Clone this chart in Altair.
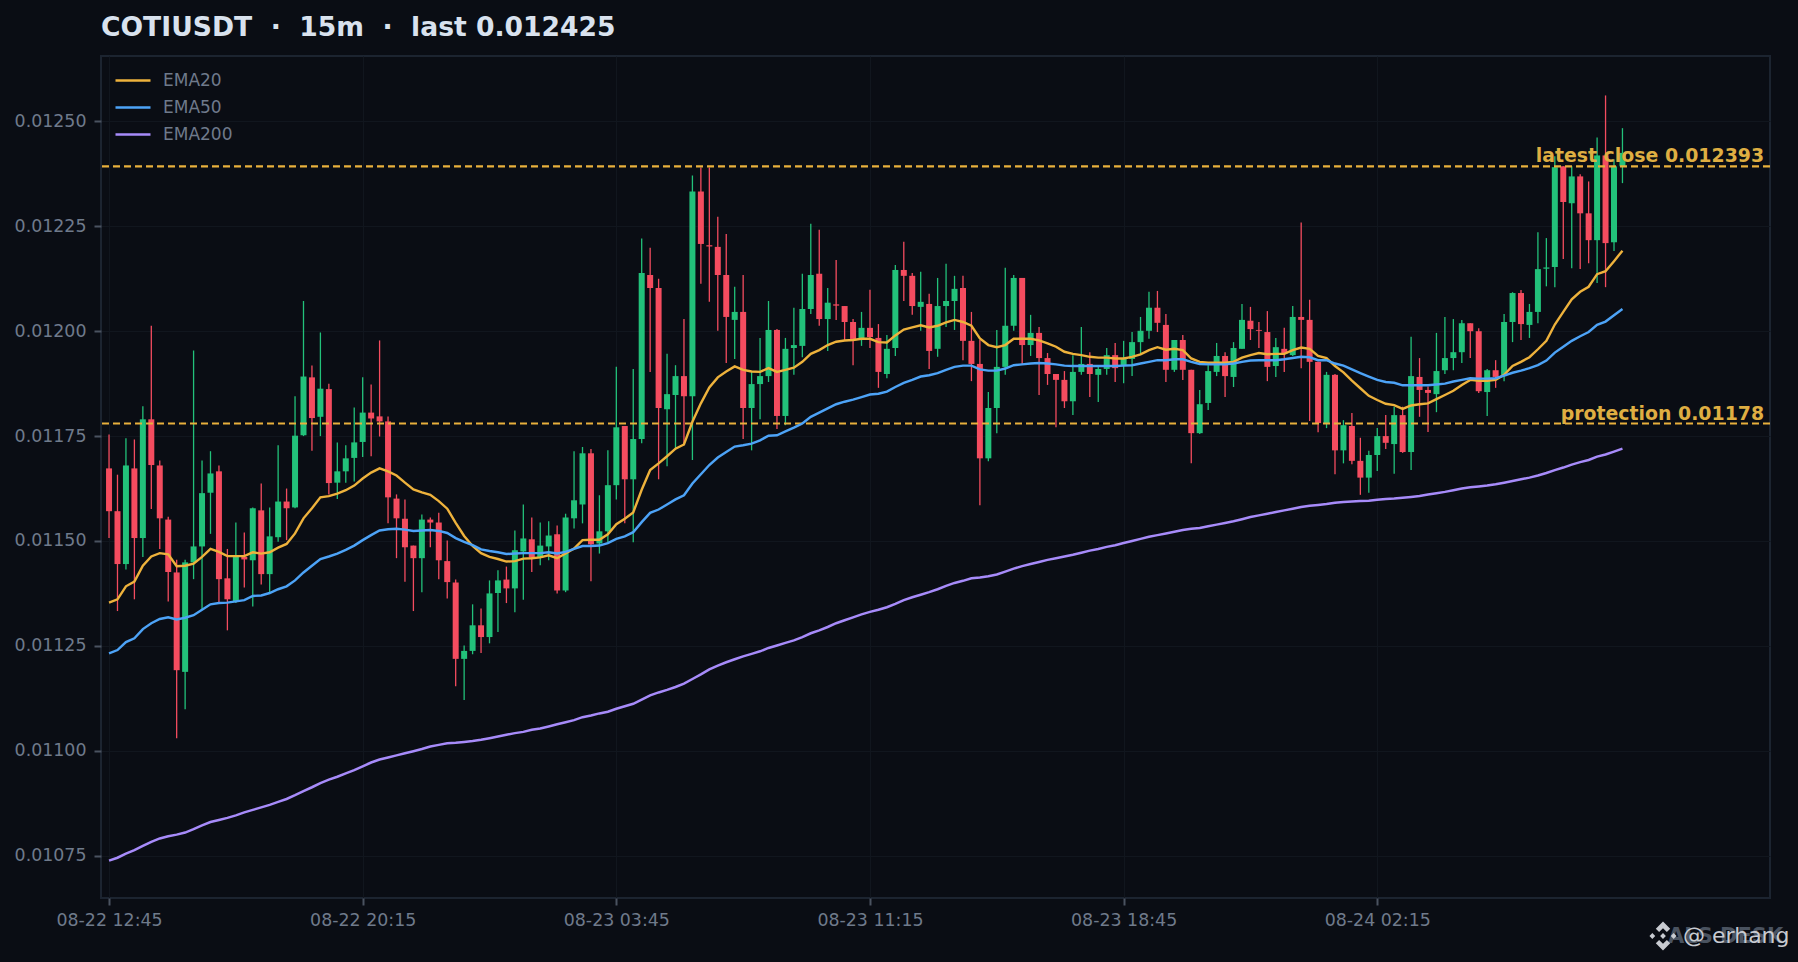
import altair as alt
import pandas as pd

# prices in units of 1e-6
opens = [11673,11571,11445,11673,11507,11790,11680,11551,11425,11188,11449,11487,11615,11666,11411,11356,11462,11454,11573,11421,11509,11594,11580,11752,11890,11796,11862,11639,11666,11698,11736,11806,11797,11785,11601,11553,11489,11459,11551,11544,11452,11401,11219,11238,11299,11271,11376,11408,11387,
11475,11504,11460,11487,11516,11382,11554,11587,11709,11494,11523,11633,11774,11647,11743,12134,12103,11814,11848,11893,11845,12333,12205,12201,12134,12027,12046,11817,11874,11893,12003,11798,11960,11965,12053,12137,12029,12064,12060,12022,11982,12008,11984,11898,11960,12146,12132,12058,12065,11958,
12060,12072,12103,11977,11922,11697,11817,11915,12013,12127,11967,11996,11936,11898,11884,11833,11903,11922,11896,11910,11943,11917,11934,11974,12001,12056,12015,11908,11979,11908,11757,11829,11903,11941,11891,11958,12025,12003,11998,11917,11958,11943,12034,12027,11927,11781,11896,11716,11774,
11691,11651,11705,11750,11731,11800,11712,11891,11860,11850,11907,11936,11950,12019,12000,11855,11907,11893,12022,12091,12015,12046,12149,12153,12393,12305,12369,12281,12217,12419,12212,12393]
closes = [11571,11445,11680,11507,11790,11681,11554,11426,11192,11449,11487,11614,11661,11409,11361,11462,11456,11578,11421,11511,11594,11578,11751,11892,11793,11863,11638,11666,11697,11735,11806,11792,11785,11604,11554,11485,11459,11551,11544,11454,11402,11219,11238,11299,11271,11375,11406,11387,11478,
11506,11460,11489,11513,11382,11556,11597,11709,11492,11523,11633,11771,11647,11743,12139,12103,11817,11850,11893,11845,12333,12208,12202,12134,12034,12046,11817,11874,11893,12003,11798,11958,11967,12053,12134,12029,12068,12061,12022,11979,12008,11986,11903,11958,12146,12132,12060,12070,11953,12060,
12072,12101,11977,11922,11697,11817,11915,12013,12127,11967,11996,11936,11898,11884,11833,11903,11922,11898,11910,11943,11912,11934,11974,12001,12056,12020,11908,11979,11908,11757,11826,11905,11941,11893,11960,12027,12005,12001,11915,11962,11946,12034,12027,11927,11781,11896,11716,11776,11691,
11651,11705,11750,11734,11800,11712,11893,11860,11853,11905,11936,11950,12019,12000,11857,11907,11891,12022,12091,12017,12046,12148,12152,12391,12308,12369,12281,12217,12419,12210,12393,12425]
highs = [11754,11658,11745,11742,11821,12013,11692,11558,11455,11455,11954,11692,11714,11680,11481,11544,11520,11580,11637,11580,11728,11625,11845,12072,11918,11997,11875,11735,11728,11818,11890,11873,11978,11797,11611,11599,11489,11563,11556,11567,11501,11408,11251,11349,11339,11406,11430,11439,11525,
11587,11556,11544,11547,11537,11565,11714,11724,11719,11609,11716,11915,11774,11910,12221,12199,12125,11946,11919,12029,12371,12390,12390,12273,12232,12106,12134,11904,11984,12072,12005,11984,12056,12137,12256,12242,12103,12170,12060,12029,12046,12099,12017,11991,12158,12213,12139,12142,12089,12127,
12161,12132,12132,12046,11979,11855,12003,12151,12134,12127,12039,12010,11948,11898,11905,11943,12010,11950,11919,11960,11972,11977,11998,12034,12094,12096,12041,11979,11991,11908,11860,11919,11972,11950,11974,12065,12058,12022,12048,11984,12008,12060,12259,12075,11927,11903,11898,11788,11805,
11746,11715,11769,11800,11820,11820,11987,11936,11868,11996,12034,12029,12027,12019,12007,11910,11931,12041,12093,12098,12065,12236,12222,12417,12393,12393,12374,12357,12462,12562,12410,12484]
lows = [11507,11333,11432,11361,11462,11576,11481,11356,11030,11099,11409,11337,11517,11352,11287,11352,11389,11344,11396,11377,11498,11502,11578,11750,11715,11750,11611,11600,11639,11642,11700,11702,11749,11542,11459,11403,11333,11378,11485,11409,11363,11154,11121,11230,11233,11256,11283,11352,11330,
11360,11426,11442,11454,11375,11378,11530,11542,11404,11470,11497,11599,11542,11497,11733,11903,11647,11678,11719,11728,11693,12113,12070,12001,11924,11934,11743,11716,11790,11879,11767,11776,11896,11938,12041,12013,11953,12027,11979,11919,11965,11960,11865,11888,11941,12072,12039,12001,11910,11939,
12010,12003,11931,11881,11585,11690,11757,11896,12001,11922,11941,11848,11872,11771,11817,11800,11896,11843,11831,11896,11879,11876,11893,11946,11982,11998,11879,11903,11884,11685,11755,11812,11893,11843,11867,11958,11979,11960,11881,11891,11903,11941,11912,11786,11759,11769,11659,11685,11683,
11610,11615,11667,11719,11660,11710,11669,11796,11760,11807,11898,11907,11924,11936,11853,11798,11865,11881,11974,11979,11984,12019,12107,12105,12172,12150,12148,12162,12115,12105,12191,12353]

ema20 = [11353,11361,11392,11403,11441,11463,11471,11468,11440,11441,11446,11462,11481,11474,11464,11464,11464,11473,11470,11473,11484,11493,11518,11554,11578,11604,11607,11613,11621,11632,11649,11663,11673,11666,11656,11639,11623,11616,11610,11595,11577,11543,11512,11488,11471,11462,11457,11451,11452,
11458,11459,11461,11466,11459,11470,11482,11502,11503,11503,11516,11540,11553,11568,11622,11669,11685,11702,11720,11730,11784,11828,11866,11890,11904,11916,11908,11904,11903,11912,11903,11908,11913,11927,11946,11955,11967,11975,11978,11979,11982,11982,11974,11973,11990,12004,12009,12014,12009,12013,
12021,12027,12022,12013,11983,11967,11962,11967,11982,11982,11982,11978,11971,11963,11951,11946,11943,11939,11937,11937,11935,11935,11939,11945,11955,11962,11956,11958,11955,11935,11927,11925,11925,11925,11927,11937,11943,11948,11945,11946,11946,11955,11961,11958,11941,11936,11917,11902,11882,
11864,11846,11836,11827,11824,11815,11823,11826,11828,11838,11848,11858,11872,11884,11882,11882,11884,11896,11917,11927,11938,11957,11977,12016,12046,12076,12094,12106,12136,12143,12167,12192]
ema50 = [11232,11240,11259,11268,11290,11304,11314,11318,11313,11317,11323,11336,11349,11352,11353,11356,11359,11369,11370,11376,11385,11392,11406,11425,11441,11457,11463,11470,11479,11489,11502,11514,11525,11528,11529,11527,11524,11525,11526,11524,11519,11507,11498,11490,11480,11476,11473,11469,11470,
11471,11471,11471,11473,11470,11474,11481,11488,11488,11489,11495,11505,11511,11521,11545,11567,11575,11587,11599,11609,11637,11659,11681,11699,11712,11725,11728,11732,11740,11751,11752,11761,11770,11780,11796,11806,11816,11826,11832,11837,11843,11849,11851,11856,11867,11877,11884,11892,11895,11900,
11908,11915,11918,11918,11909,11906,11906,11911,11919,11921,11923,11924,11923,11921,11918,11917,11917,11917,11917,11917,11917,11918,11919,11923,11927,11931,11931,11933,11933,11927,11922,11921,11921,11921,11923,11927,11930,11931,11931,11931,11933,11936,11939,11938,11931,11931,11923,11918,11909,
11900,11892,11884,11879,11877,11871,11871,11871,11871,11873,11875,11880,11884,11888,11887,11887,11888,11894,11901,11906,11912,11919,11930,11949,11963,11977,11988,11998,12015,12023,12038,12053]
ema200 = [10738,10745,10755,10763,10773,10783,10791,10796,10800,10805,10813,10822,10830,10835,10840,10846,10853,10859,10865,10871,10878,10885,10894,10904,10913,10923,10931,10938,10946,10954,10963,10972,10979,10984,10989,10994,10999,11004,11010,11014,11018,11019,11021,11023,11026,11030,11034,11038,11042,
11045,11050,11053,11058,11063,11068,11073,11080,11084,11089,11093,11100,11106,11112,11122,11132,11139,11145,11152,11160,11171,11182,11194,11203,11211,11218,11225,11231,11237,11245,11251,11257,11263,11271,11280,11287,11295,11304,11311,11318,11325,11331,11336,11342,11350,11359,11366,11372,11378,
11385,11393,11400,11405,11411,11413,11416,11420,11427,11434,11440,11445,11450,11455,11459,11463,11467,11472,11477,11481,11486,11490,11495,11500,11505,11510,11514,11518,11522,11526,11529,11531,11535,11539,11543,11547,11552,11557,11561,11565,11569,11573,11577,11581,11584,11586,11588,11591,
11593,11594,11595,11596,11598,11600,11601,11603,11605,11607,11611,11614,11617,11621,11625,11628,11630,11632,11635,11639,11643,11647,11651,11656,11662,11669,11675,11682,11688,11693,11701,11706,11713,11720]

tick_index = [0, 30, 60, 90, 120, 150]
tick_labels = ["08-22 12:45", "08-22 20:15", "08-23 03:45", "08-23 11:15", "08-23 18:45", "08-24 02:15"]
y_ticks = [0.01075, 0.011, 0.01125, 0.0115, 0.01175, 0.012, 0.01225, 0.0125]
level_prices = [0.012393, 0.01178]
level_names = ["latest close 0.012393", "protection 0.01178"]
series_names = ["EMA20", "EMA50", "EMA200"]
series_colors = ["#eeb23c", "#4da3f7", "#a78bfa"]
series_widths = [2.4, 2.5, 2.8]

BG = "#0a0d14"
GREEN = "#22c17a"
RED = "#f44c5f"
GOLD = "#e8b03c"
GRAY = "#6f7a8b"

n = len(opens)
assert all(len(a) == n for a in [closes, highs, lows, ema20, ema50, ema200]), [len(a) for a in [opens, closes, highs, lows, ema20, ema50, ema200]]

candles = pd.DataFrame({
    "i": list(range(n)),
    "open": [v / 1e6 for v in opens],
    "close": [v / 1e6 for v in closes],
    "high": [v / 1e6 for v in highs],
    "low": [v / 1e6 for v in lows],
})
candles["dir"] = ["up" if c >= o else "down" for o, c in zip(opens, closes)]

rows = []
for name, arr in zip(series_names, [ema20, ema50, ema200]):
    rows += [{"i": k, "v": v / 1e6, "s": name} for k, v in enumerate(arr)]
ema = pd.DataFrame(rows)

x_scale = alt.Scale(domain=[-0.95, 196.45], nice=False, zero=False, padding=0)
y_scale = alt.Scale(domain=[0.010649, 0.012656], nice=False, zero=False, padding=0)
label_expr = "[" + ",".join(f"'{t}'" for t in tick_labels) + "][datum.value/30]"

x_enc = alt.X("i:Q", scale=x_scale, axis=alt.Axis(values=tick_index, labelExpr=label_expr, title=None, grid=True, labelPadding=6))
y_axis = alt.Axis(values=y_ticks, format=".5f", title=None, grid=True)
dir_color = alt.Color("dir:N", scale=alt.Scale(domain=["up", "down"], range=[GREEN, RED]), legend=None)

base = alt.Chart(candles)
wicks = base.mark_rule(strokeWidth=1.3).encode(
    x=x_enc, y=alt.Y("low:Q", scale=y_scale, axis=y_axis), y2="high:Q", color=dir_color)
bodies = base.mark_bar(size=6, strokeWidth=0).encode(
    x=alt.X("i:Q", scale=x_scale), y=alt.Y("open:Q", scale=y_scale), y2="close:Q", color=dir_color)

levels = alt.Chart(pd.DataFrame({"p": level_prices, "t": level_names, "x": [195.75, 195.75]}))
rules = levels.mark_rule(color=GOLD, strokeWidth=2.2, strokeDash=[7, 4]).encode(y=alt.Y("p:Q", scale=y_scale))
level_text = levels.mark_text(align="right", baseline="alphabetic", dy=-4, fontWeight="bold", fontSize=18.9,
                              font="DejaVu Sans", color="#dfae42").encode(
    x=alt.X("x:Q", scale=x_scale), y=alt.Y("p:Q", scale=y_scale), text="t:N")

lines = alt.Chart(ema).mark_line(interpolate="linear", clip=False).encode(
    x=alt.X("i:Q", scale=x_scale),
    y=alt.Y("v:Q", scale=y_scale),
    detail="s:N",
    strokeWidth=alt.StrokeWidth("s:N", scale=alt.Scale(domain=series_names, range=series_widths), legend=None),
    color=alt.Color("s:N", scale=alt.Scale(domain=series_names, range=series_colors), legend=alt.Legend(
        title=None, orient="none", legendX=13, legendY=5.5, symbolType="stroke", symbolSize=1225,
        symbolStrokeWidth=2.4, labelFontSize=17, labelColor=GRAY, labelFont="DejaVu Sans", rowPadding=-12,
        labelOffset=11, padding=0, values=series_names)),
)

wm_text = alt.Chart(pd.DataFrame({"t": ["ALS DESK"]})).mark_text(
    align="left", baseline="alphabetic", fontSize=21, fontWeight="bold", font="DejaVu Sans", color="#4a5360",
    clip=False).encode(x=alt.value(1567), y=alt.value(887), text="t:N")
wm_name = alt.Chart(pd.DataFrame({"t": ["@ erhang"]})).mark_text(
    align="left", baseline="alphabetic", fontSize=22, font="DejaVu Sans", color="#c8cbd1", clip=False).encode(
    x=alt.value(1582), y=alt.value(887), text="t:N")
ICON = ("M0,-1L.5,-.5L.27,-.27L0,-.54L-.27,-.27L-.5,-.5Z M0,1L.5,.5L.27,.27L0,.54L-.27,.27L-.5,.5Z "
        "M0,-.2L.2,0L0,.2L-.2,0Z M-.74,-.2L-.54,0L-.74,.2L-.94,0Z M.74,-.2L.94,0L.74,.2L.54,0Z")
wm_icon = alt.Chart(pd.DataFrame({"t": ["icon"]})).mark_point(
    shape=ICON, filled=True, size=830, color="#c8cbd1", opacity=1, clip=False).encode(
    x=alt.value(1562), y=alt.value(880), detail="t:N")

title_text = "COTIUSDT\u00a0\u00a0·\u00a0\u00a015m\u00a0\u00a0·\u00a0\u00a0last 0.012425"
chart = alt.layer(wicks, bodies, rules, lines, level_text, wm_text, wm_icon, wm_name).resolve_scale(
    color="independent"
).properties(
    width=1669, height=842,
    padding={"left": 6, "top": 7, "right": 0, "bottom": 0},
    background=BG,
    title=alt.TitleParams(title_text, anchor="start", frame="group", font="DejaVu Sans",
                          fontSize=26.6, fontWeight="bold", color="#d9e2ee", offset=-7, baseline="alphabetic"),
).configure_view(stroke="#1c2430", strokeWidth=2, fill=BG).configure_axis(
    gridColor="#11161e", gridWidth=1, domain=False, tickColor="#4a5360", tickSize=7, tickWidth=2,
    labelColor=GRAY, labelFont="DejaVu Sans", labelFontSize=17.4, labelPadding=8,
)
PAGE_CSS = "html,body{background:#0a0d14;overflow:hidden}.vega-embed{position:relative;display:inline-block}"
chart.save("out.html", embed_options={"renderer": "svg", "actions": False, "defaultStyle": PAGE_CSS})
